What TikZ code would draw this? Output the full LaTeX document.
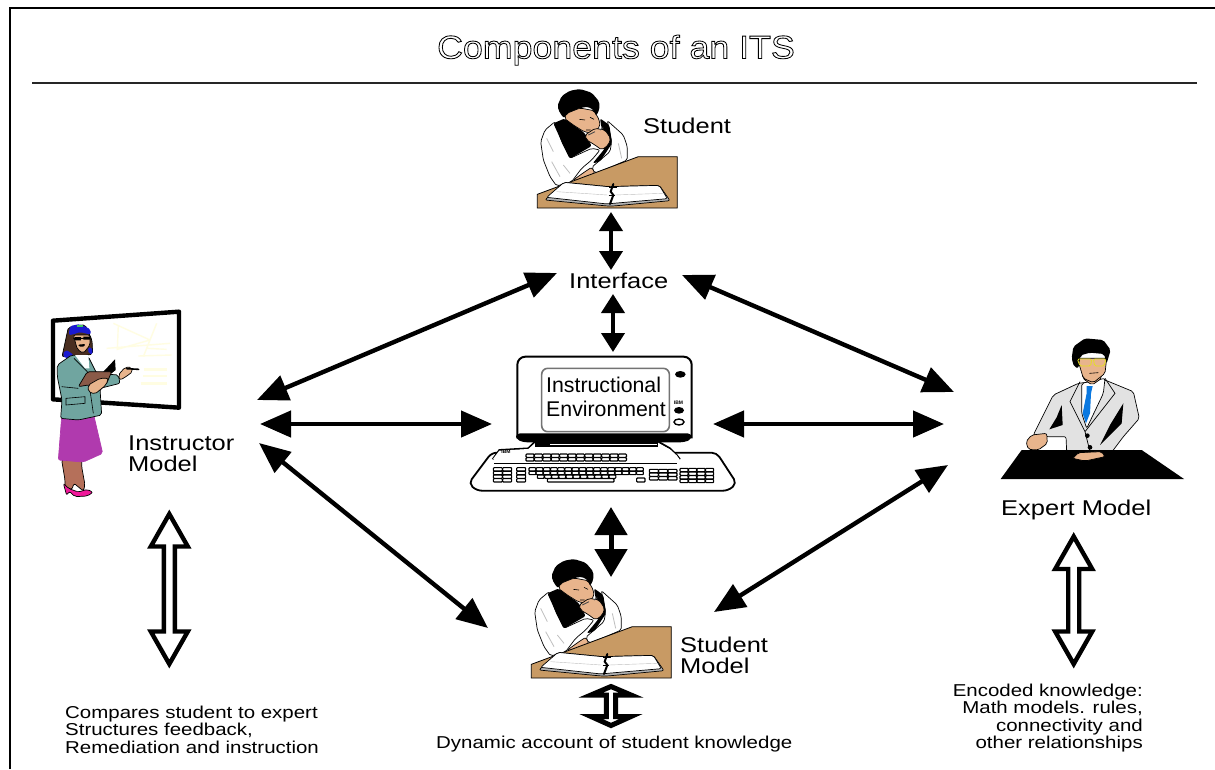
\documentclass[tikz,border=0pt]{standalone}
\usepackage{fontspec}
\usetikzlibrary{arrows.meta}
\newfontfamily\widefont[FakeStretch=1.19]{Liberation Sans}
\newfontfamily\titlefont[FakeStretch=1.10]{Liberation Sans}
\newfontfamily\plainfont{Liberation Sans}
\definecolor{deskbrown}{HTML}{C89A64}
\definecolor{skin}{HTML}{E8B48C}
\definecolor{legskin}{HTML}{B5705A}
\definecolor{teal}{HTML}{70A5A0}
\definecolor{skirt}{HTML}{B03AAE}
\definecolor{shoe}{HTML}{F0189A}
\definecolor{hairblue}{HTML}{1A1AD0}
\definecolor{hairbrown}{HTML}{4A2E20}
\definecolor{paleyellow}{HTML}{FFFDE2}
\definecolor{suit}{HTML}{E2E2E2}
\definecolor{tieblue}{HTML}{0A78E0}
\definecolor{glass}{HTML}{E4E020}
\definecolor{bookbrown}{HTML}{8A5A48}
\tikzset{
  lbl/.style={inner sep=0pt,font=\widefont\fontsize{21.4}{21}\selectfont,align=left},
  small/.style={inner sep=0pt,font=\widefont\fontsize{17.2}{17.5}\selectfont},
  link/.style={line width=4.4pt,{Triangle[length=31pt,width=26pt]}-{Triangle[length=31pt,width=26pt]}},
  shortlink/.style={line width=4pt,{Triangle[length=19pt,width=23pt]}-{Triangle[length=19pt,width=23pt]}},
  midlink/.style={line width=5pt,{Triangle[length=28pt,width=32pt]}-{Triangle[length=28pt,width=32pt]}},
  hollowarrow/.style={draw=black,fill=white,line width=4.4pt,miter limit=10},
  fig/.style={draw=black,line width=0.7pt,rounded corners=2pt},
  zoomed/.style={x=0.33333pt,y=-0.33333pt},
  keycap/.style={draw=black,fill=white,line width=1.15pt,rounded corners=0.8pt}
}
% double hollow arrow: centre x, top tip y, bottom tip y
\newcommand\hollowshape[3]{%
  \draw[hollowarrow] (#1,#2+4) -- (#1+18.5,#2+36.5) -- (#1+5.5,#2+36.5)
    -- (#1+5.5,#3-36.5) -- (#1+18.5,#3-36.5) -- (#1,#3-4)
    -- (#1-18.5,#3-36.5) -- (#1-5.5,#3-36.5) -- (#1-5.5,#2+36.5)
    -- (#1-18.5,#2+36.5) -- cycle;}
% block of keys, in the computer's zoomed coordinates
\newcommand\keyblock[6]{%
  \foreach \ci in {1,...,#3}{\foreach \ri in {1,...,#4}{%
    \draw[keycap] ({#1+(\ci-1)*#5},{#2+(\ri-1)*#6}) rectangle ++({#5-1},{#6-1});}}}
% thinking man at a desk
\newcommand\manatdesk[2]{%
\begin{scope}[shift={(#1,#2)},zoomed]
  \draw[fig,fill=white] (62,185) -- (75,150) -- (105,125) -- (125,185) -- (150,235) -- (215,205) -- (240,210) -- (215,240) -- (185,265) -- (155,305) -- (110,318) -- (90,290) -- (70,240) -- cycle;
  \draw[black!25,line width=0.8pt] (80,175) -- (100,215) (95,245) -- (120,290) (130,255) -- (150,280);
  \draw[fig,fill=white] (262,122) -- (310,165) -- (322,200) -- (322,240) -- (275,260) -- (225,280) -- (215,262) -- (270,215) -- (275,185) -- cycle;
  \draw[black!25,line width=0.8pt] (295,190) -- (305,235);
  \fill[black,rounded corners=2pt] (100,130) -- (135,115) -- (165,138) -- (195,160) -- (215,198) -- (150,236) -- (125,185) -- cycle;
  \fill[black,rounded corners=2pt] (240,115) -- (268,135) -- (276,190) -- (240,245) -- (218,250) -- (255,205) -- cycle;
  \draw[fig,fill=skin] (133,115) -- (140,100) -- (180,84) -- (222,92) -- (238,120) -- (240,140) -- (218,160) -- (192,155) -- (160,135) -- cycle;
  \fill[black,rounded corners=2pt] (112,78) -- (125,48) -- (150,32) -- (180,27) -- (215,38) -- (238,65) -- (238,90) -- (228,108) -- (222,92) -- (205,80) -- (180,84) -- (160,92) -- (140,100) -- (133,115) -- (120,100) -- cycle;
  \draw[fig,fill=skin] (195,165) -- (225,145) -- (255,150) -- (272,175) -- (265,195) -- (245,210) -- (225,195) -- (200,180) -- cycle;
  \draw[black,line width=0.6pt] (178,118) -- (195,120) (210,112) -- (222,118) (198,150) -- (212,150);
  \draw[black!70,line width=0.9pt] (205,165) -- (225,155) (240,150) -- (250,143);
  \draw[fig,fill=skin] (160,300) -- (195,275) -- (215,262) -- (225,280) -- (215,295) -- (175,302) -- cycle;
  \draw[black,line width=0.8pt,fill=deskbrown] (52,343) -- (355,230) -- (472,230) -- (472,384) -- (52,384) -- cycle;
  \draw[fig,fill=black!30] (75,360) -- (132,307) -- (265,320) -- (418,316) -- (450,362) -- (280,378) -- (262,378) -- cycle;
  \draw[fig,fill=white] (80,352) -- (132,307) -- (265,320) -- (418,316) -- (442,356) -- (280,370) -- (262,372) -- cycle;
  \draw[black!25,line width=0.4pt] (110,335) -- (262,345) (285,345) -- (428,340);
  \draw[black,line width=2pt,line cap=round] (280,312) -- (272,335) -- (280,345) -- (270,372);
  \draw[black,line width=0.8pt] (268,322) -- (290,322) (266,345) -- (286,345);
\end{scope}}
\begin{document}
\begin{tikzpicture}[x=1pt,y=-1pt]
\useasboundingbox[fill=white] (0,0) rectangle (1215,769);
% frame and rule
\draw[line width=2.4pt] (10,769) -- (10,8) -- (1215,8);
\draw[line width=1.2pt,black!85] (32,83) -- (1197,83);
% title
\node[inner sep=0pt,anchor=base] (title) at (616,58.5)
  {\titlefont\fontsize{32.5}{34}\selectfont\special{pdf:code q 1 Tr 0.85 w 0 G}Components of an ITS\special{pdf:code Q}};

% ===== top student and student model
\manatdesk{520}{80}
\manatdesk{514}{550}

% ===== instructor
\begin{scope}[shift={(0,290)},zoomed]
  \draw[line width=4.4pt,fill=white,line join=round] (159,92) -- (537,65) -- (537,353) -- (159,328) -- cycle;
  \draw[paleyellow,line width=1.4pt] (340,100) -- (450,150) -- (470,100) -- (430,200) (355,105) -- (352,178) -- (450,150) (320,175) -- (510,160) (415,198) -- (515,195) (440,175) -- (500,178);
  \draw[paleyellow,line width=2.6pt] (432,238) -- (502,238) (430,258) -- (502,258) (422,280) -- (502,280);
  % legs and shoes
  \draw[fig,fill=legskin] (185,510) -- (195,570) -- (195,595) -- (215,600) -- (222,580) -- (250,603) -- (255,585) -- (245,530) -- (245,510) -- cycle;
  \draw[fig,fill=shoe] (190,580) -- (207,596) -- (235,606) -- (262,598) -- (279,607) -- (262,618) -- (225,620) -- (208,604) -- (200,616) -- cycle;
  % skirt
  \draw[fig,draw=skirt,fill=skirt] (185,380) -- (280,370) -- (308,490) -- (250,516) -- (175,510) -- cycle;
  % hair back
  \draw[fig,fill=hairbrown] (186,200) -- (205,112) -- (255,104) -- (276,150) -- (278,192) -- (240,200) -- cycle;
  \fill[hairblue,rounded corners=2pt] (188,195) -- (195,180) -- (210,185) -- (225,202) -- (195,205) -- cycle;
  \fill[hairblue,rounded corners=2pt] (264,172) -- (276,172) -- (278,192) -- (266,192) -- cycle;
  % jacket
  \draw[fig,fill=teal] (172,225) -- (215,195) -- (265,200) -- (290,250) -- (355,255) -- (360,280) -- (300,295) -- (305,375) -- (235,390) -- (182,385) -- (186,330) -- (172,260) -- cycle;
  \draw[black,line width=0.6pt] (222,205) -- (262,245) -- (280,370) (198,325) -- (255,320) -- (255,340) -- (198,345) -- cycle (185,290) -- (235,295);
  \fill[white] (225,195) -- (265,195) -- (268,235) -- (255,235) -- cycle;
  % face and hair
  \draw[fig,fill=skin] (220,135) -- (270,135) -- (270,165) -- (250,190) -- (232,178) -- cycle;
  \fill[hairblue,rounded corners=2pt] (206,135) -- (210,108) -- (240,102) -- (272,118) -- (272,134) -- (240,126) -- (218,134) -- cycle;
  \fill[teal!60!green] (230,104) rectangle (248,110);
  \draw[black,line width=1pt] (220,146) -- (272,144);
  \fill[black] (224,141) rectangle (243,151) (250,140) rectangle (270,149);
  \fill[black,rounded corners=1pt] (234,164) -- (256,162) -- (252,170) -- (238,170) -- cycle;
  % book, hand, pen
  \fill[black] (310,245) -- (345,208) -- (347,240) -- (325,258) -- cycle;
  \draw[fig,fill=bookbrown] (235,290) -- (262,245) -- (335,245) -- (318,285) -- (265,285) -- cycle;
  \draw[fig,fill=skin] (265,285) -- (300,265) -- (325,265) -- (318,285) -- (285,312) -- (265,305) -- cycle;
  \draw[fig,fill=skin] (355,255) -- (375,232) -- (395,232) -- (398,245) -- (375,262) -- (360,270) -- cycle;
  \draw[black,line width=1.6pt,line cap=round] (380,236) -- (416,238);
\end{scope}

% ===== expert
\begin{scope}[shift={(990,330)},zoomed]
  \draw[fig,fill=suit] (130,315) -- (190,195) -- (265,160) -- (345,150) -- (430,185) -- (448,265) -- (400,320) -- (355,380) -- (230,365) -- (228,320) -- (170,320) -- cycle;
  \draw[fig,fill=white] (275,160) -- (345,145) -- (340,190) -- (290,295) -- (275,250) -- cycle;
  \fill[tieblue] (290,168) -- (308,168) -- (303,190) -- (300,250) -- (288,280) -- (278,250) -- (290,190) -- cycle;
  \draw[fig,fill=skin] (278,145) -- (278,120) -- (330,120) -- (335,145) -- (306,165) -- cycle;
  \draw[black,line width=0.7pt] (270,155) -- (240,215) -- (285,305) -- (375,190) -- (345,145) (285,305) -- (300,365);
  \draw[fig,fill=skin] (262,85) -- (350,85) -- (345,130) -- (310,158) -- (280,145) -- cycle;
  \fill[black,rounded corners=2pt] (245,85) -- (250,50) -- (285,25) -- (340,30) -- (362,60) -- (350,100) -- (342,72) -- (300,68) -- (272,76) -- (265,115) -- (252,110) -- cycle;
  \draw[glass,line width=0.8pt,rounded corners=1.5pt] (262,87) -- (305,87) -- (302,108) -- (270,108) -- cycle (310,87) -- (348,87) -- (342,108) -- (314,108) -- cycle;
  \draw[black,line width=0.6pt] (298,130) -- (325,128);
  \fill[black] (215,225) -- (218,285) -- (178,298) -- (200,262) -- cycle;
  \fill[black] (400,220) -- (395,280) -- (330,345) -- (360,285) -- cycle;
  \fill[black] (292,317) circle (7) (300,352) circle (7);
  \draw[fig,fill=skin] (108,335) -- (125,315) -- (170,310) -- (172,340) -- (145,360) -- (115,358) -- cycle;
  \fill[black] (32,447) -- (95,360) -- (455,360) -- (582,447) -- cycle;
  \draw[fig,fill=skin] (248,385) -- (265,368) -- (335,365) -- (345,380) -- (285,393) -- cycle;
\end{scope}

% ===== computer
\begin{scope}[shift={(460,340)},zoomed]
  \draw[line width=2pt,fill=white,rounded corners=8pt] (172,295) -- (172,50) -- (695,50) -- (695,295);
  \fill[black,rounded corners=4pt] (168,280) -- (695,280) -- (695,298) -- (672,307) -- (190,307) -- (168,298) -- cycle;
  \draw[black!55,line width=1.6pt,fill=white,rounded corners=6pt] (245,85) rectangle (628,275);
  \fill (661,103) ellipse (16 and 10) (657,211) ellipse (15 and 10);
  \draw[line width=1.4pt,fill=white] (657,246) ellipse (15 and 9);
  \fill[black] (225,305) rectangle (595,325);
  \draw[line width=1.8pt,fill=white,rounded corners=5pt] (95,338) -- (770,338) -- (830,430) -- (805,452) -- (50,452) -- (26,430) -- cycle;
  \draw[line width=1.8pt,fill=white] (98,358) -- (118,330) -- (205,325) -- (225,305) -- (595,305) -- (630,325) -- (650,345) -- (660,358);
  \fill[white] (98,358) -- (118,332) -- (205,327) -- (225,310) -- (595,310) -- (630,328) -- (650,346) -- (660,360) -- cycle;
  \fill[black] (225,305) rectangle (595,322);
  \fill[white] (270,311) rectangle (590,314);
  \draw[line width=0.9pt] (103,370) -- (650,370);
  \keyblock{198}{342}{12}{2}{25.2}{11}
  \keyblock{100}{383}{2}{4}{28}{11}
  \keyblock{170}{383}{1}{4}{28}{11}
  \keyblock{207}{383}{16}{2}{21.5}{11}
  \keyblock{232}{405}{11}{1}{21.5}{11}
  \draw[keycap] (262,416) rectangle (462,426);
  \keyblock{568}{388}{3}{3}{28}{11}
  \keyblock{660}{385}{4}{4}{25.5}{11}
  \draw[keycap] (530,414) rectangle (555,426);
\end{scope}
\node[inner sep=0pt,font=\bfseries\plainfont\fontsize{5}{5}\selectfont] (ibmA) at (678.5,403) {IBM};
\node[inner sep=0pt,font=\bfseries\plainfont\fontsize{5}{5}\selectfont] (ibmB) at (506,452) {IBM};
\node[inner sep=0pt,anchor=west,font=\plainfont\fontsize{21.3}{24}\selectfont,align=left] (envlbl) at (546,397) {Instructional\\Environment};

% ===== labels
\node[lbl,anchor=west] (studentlbl) at (643,126) {Student};
\node[lbl,anchor=west] (interfacelbl) at (569,281) {Interface};
\node[lbl,anchor=west] (instructorlbl) at (128,453.5) {Instructor\\Model};
\node[lbl,anchor=west] (expertlbl) at (1001,509.5) {Expert Model};
\node[lbl,anchor=west] (studentmodellbl) at (680,655.5) {Student\\Model};
\node[small,anchor=west,align=left] (comparelbl) at (65,729.5) {Compares student to expert\\Structures feedback,\\Remediation and instruction};
\node[small,anchor=base west] (dynamiclbl) at (436,748) {Dynamic account of student knowledge};
\node[small,anchor=east,align=right] (encodedlbl) at (1143,718) {Encoded knowledge:\\Math models. rules,\\connectivity and\\other relationships};

% ===== connector ends
\coordinate (s1) at (611,212);   \coordinate (i1) at (611,270);
\coordinate (i2) at (613,294);   \coordinate (c1) at (613,352);
\coordinate (i3) at (557,273);   \coordinate (m1) at (257,400);
\coordinate (i4) at (682,275);   \coordinate (e1) at (954,392);
\coordinate (m2) at (260,424);   \coordinate (c2) at (492,424);
\coordinate (c3) at (713,424);   \coordinate (e2) at (944,424);
\coordinate (m3) at (259,443);   \coordinate (d1) at (488,628);
\coordinate (e3) at (948,465);   \coordinate (d2) at (714,612);
\coordinate (c4) at (611,507);   \coordinate (d3) at (611,577);

\draw[shortlink] (s1) -- (i1);
\draw[shortlink] (i2) -- (c1);
\draw[link] (i3) -- (m1);
\draw[link] (i4) -- (e1);
\draw[link] (m2) -- (c2);
\draw[link] (c3) -- (e2);
\draw[link] (m3) -- (d1);
\draw[link] (e3) -- (d2);
\draw[midlink] (c4) -- (d3);

% ===== hollow double arrows
\hollowshape{169.3}{510}{668}
\hollowshape{1073.7}{532.5}{668}
\draw[hollowarrow,line width=5pt] (611,686.5) -- (631,695) -- (615.7,695) -- (615.7,716.5) -- (631,716.5) -- (611,725.5) -- (591,716.5) -- (606.3,716.5) -- (606.3,695) -- (591,695) -- cycle;
\end{tikzpicture}
\end{document}
